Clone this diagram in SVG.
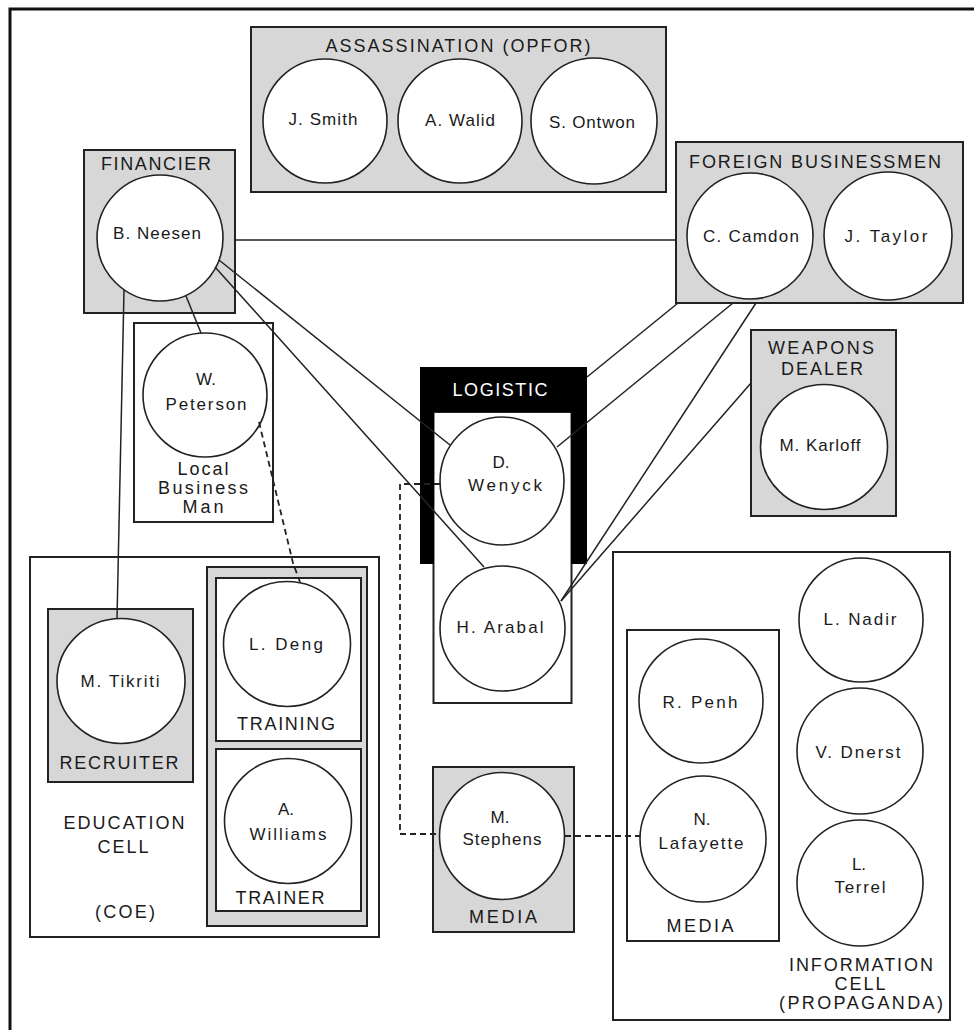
<svg xmlns="http://www.w3.org/2000/svg" width="974" height="1030" viewBox="0 0 974 1030">
<style>
text{font-family:"Liberation Sans",Arial,sans-serif;fill:#1a1a1a;text-anchor:middle}
.lb{font-size:18px}
.nm{font-size:17px}
.g{fill:#d7d7d7;stroke:#222;stroke-width:2}
.w{fill:#fff;stroke:#222;stroke-width:2}
.c{fill:#fff;stroke:#222;stroke-width:1.6}
.ln{fill:none;stroke:#222;stroke-width:1.5}
.ds{fill:none;stroke:#222;stroke-width:1.8;stroke-dasharray:6 4}
</style>
<rect x="0" y="0" width="974" height="1030" fill="#fff"/>
<rect x="10" y="9" width="1000" height="1050" fill="none" stroke="#111" stroke-width="3"/>

<g id="assassination">
<rect class="g" x="251" y="27" width="415" height="165"/>
<text class="lb" x="458" y="52" textLength="265" lengthAdjust="spacing">ASSASSINATION (OPFOR)</text>
</g>
<g id="j-smith"><circle class="c" cx="325" cy="121" r="62"/><text class="nm" x="323" y="125" textLength="69" lengthAdjust="spacing">J. Smith</text></g>
<g id="a-walid"><circle class="c" cx="460" cy="121" r="62"/><text class="nm" x="460" y="126" textLength="70" lengthAdjust="spacing">A. Walid</text></g>
<g id="s-ontwon"><circle class="c" cx="594" cy="121" r="63"/><text class="nm" x="592" y="128" textLength="86" lengthAdjust="spacing">S. Ontwon</text></g>

<g id="financier">
<rect class="g" x="84" y="150" width="151" height="163"/>
<text class="lb" x="156" y="170" textLength="110" lengthAdjust="spacing">FINANCIER</text>
</g>
<g id="b-neesen"><circle class="c" cx="160" cy="238" r="63"/><text class="nm" x="157" y="239" textLength="88" lengthAdjust="spacing">B. Neesen</text></g>

<g id="foreign-businessmen">
<rect class="g" x="676" y="142" width="287" height="161"/>
<text class="lb" x="815" y="168" textLength="252" lengthAdjust="spacing">FOREIGN BUSINESSMEN</text>
</g>
<g id="c-camdon"><circle class="c" cx="750" cy="236" r="63"/><text class="nm" x="751" y="242" textLength="96" lengthAdjust="spacing">C. Camdon</text></g>
<g id="j-taylor"><circle class="c" cx="888" cy="236" r="64"/><text class="nm" x="886" y="242" textLength="83" lengthAdjust="spacing">J. Taylor</text></g>

<g id="local-business-man">
<rect class="w" x="134" y="323" width="139" height="199"/>
<text class="lb" x="203" y="475" textLength="51" lengthAdjust="spacing">Local</text>
<text class="lb" x="203" y="494" textLength="90" lengthAdjust="spacing">Business</text>
<text class="lb" x="203" y="513" textLength="41" lengthAdjust="spacing">Man</text>
</g>
<g id="w-peterson"><circle class="c" cx="205" cy="395" r="62"/>
<text class="nm" x="206" y="385">W.</text>
<text class="nm" x="206" y="410" textLength="81" lengthAdjust="spacing">Peterson</text></g>

<g id="logistic">
<rect x="433.5" y="412" width="138" height="291" fill="#fff" stroke="#222" stroke-width="2"/>
<path d="M420 367 H587 V564 H571 V412 H434 V564 H420 Z" fill="#000"/>
<text class="lb" x="500" y="396" style="fill:#fff" textLength="95" lengthAdjust="spacing">LOGISTIC</text>
</g>
<g id="d-wenyck"><ellipse class="c" cx="502" cy="481" rx="62" ry="64"/>
<text class="nm" x="501" y="468">D.</text>
<text class="nm" x="505" y="491" textLength="74" lengthAdjust="spacing">Wenyck</text></g>
<g id="h-arabal"><circle class="c" cx="502.5" cy="628.5" r="62.5"/>
<text class="nm" x="500" y="633" textLength="87" lengthAdjust="spacing">H. Arabal</text></g>

<g id="weapons-dealer">
<rect class="g" x="751" y="330" width="145" height="186"/>
<text class="lb" x="821" y="354" textLength="106" lengthAdjust="spacing">WEAPONS</text>
<text class="lb" x="822" y="375" textLength="82" lengthAdjust="spacing">DEALER</text>
</g>
<g id="m-karloff"><ellipse class="c" cx="824" cy="447" rx="63.5" ry="62.5"/>
<text class="nm" x="820" y="451" textLength="81" lengthAdjust="spacing">M. Karloff</text></g>

<g id="education-cell">
<rect class="w" x="30" y="557" width="349" height="380"/>
<text class="lb" x="124" y="829" textLength="121" lengthAdjust="spacing">EDUCATION</text>
<text class="lb" x="123" y="853" textLength="51" lengthAdjust="spacing">CELL</text>
<text class="lb" x="125" y="918" textLength="60" lengthAdjust="spacing">(COE)</text>
</g>
<g id="recruiter">
<rect class="g" x="48" y="609" width="145" height="173"/>
<text class="lb" x="119" y="769" textLength="119" lengthAdjust="spacing">RECRUITER</text>
</g>
<g id="m-tikriti"><ellipse class="c" cx="121" cy="681" rx="64" ry="62.5"/>
<text class="nm" x="120" y="687" textLength="79" lengthAdjust="spacing">M. Tikriti</text></g>
<g id="training-group">
<rect class="g" x="207" y="567" width="160" height="359"/>
</g>
<g id="training">
<rect class="w" x="216" y="578" width="145" height="163"/>
<text class="lb" x="286" y="730" textLength="98" lengthAdjust="spacing">TRAINING</text>
</g>
<g id="l-deng"><ellipse class="c" cx="287" cy="644" rx="63.5" ry="62.5"/>
<text class="nm" x="286" y="650" textLength="74" lengthAdjust="spacing">L. Deng</text></g>
<g id="trainer">
<rect class="w" x="216" y="749" width="145" height="162"/>
<text class="lb" x="280" y="904" textLength="89" lengthAdjust="spacing">TRAINER</text>
</g>
<g id="a-williams"><ellipse class="c" cx="288" cy="821" rx="63.5" ry="62.5"/>
<text class="nm" x="286" y="815">A.</text>
<text class="nm" x="288" y="840" textLength="77" lengthAdjust="spacing">Williams</text></g>

<g id="media-stephens">
<rect class="g" x="433" y="767" width="141" height="165"/>
<text class="lb" x="503" y="923" textLength="68" lengthAdjust="spacing">MEDIA</text>
</g>
<g id="m-stephens"><ellipse class="c" cx="502" cy="836" rx="62.5" ry="63.5"/>
<text class="nm" x="500" y="823">M.</text>
<text class="nm" x="502" y="845" textLength="79" lengthAdjust="spacing">Stephens</text></g>

<g id="information-cell">
<rect class="w" x="613" y="552" width="337" height="468"/>
<text class="lb" x="861" y="971" textLength="144" lengthAdjust="spacing">INFORMATION</text>
<text class="lb" x="860" y="990" textLength="51" lengthAdjust="spacing">CELL</text>
<text class="lb" x="861" y="1009" textLength="164" lengthAdjust="spacing">(PROPAGANDA)</text>
</g>
<g id="media-info">
<rect class="w" x="627" y="630" width="152" height="311"/>
<text class="lb" x="700" y="932" textLength="67" lengthAdjust="spacing">MEDIA</text>
</g>
<g id="r-penh"><circle class="c" cx="701" cy="701" r="62"/>
<text class="nm" x="700" y="708" textLength="75" lengthAdjust="spacing">R. Penh</text></g>
<g id="n-lafayette"><circle class="c" cx="703" cy="839" r="63"/>
<text class="nm" x="702" y="825">N.</text>
<text class="nm" x="701" y="849" textLength="85" lengthAdjust="spacing">Lafayette</text></g>
<g id="l-nadir"><circle class="c" cx="861" cy="620" r="62"/>
<text class="nm" x="860" y="625" textLength="73" lengthAdjust="spacing">L. Nadir</text></g>
<g id="v-dnerst"><circle class="c" cx="860" cy="751" r="63"/>
<text class="nm" x="858" y="758" textLength="85" lengthAdjust="spacing">V. Dnerst</text></g>
<g id="l-terrel"><circle class="c" cx="860" cy="883" r="63"/>
<text class="nm" x="859" y="870">L.</text>
<text class="nm" x="860" y="893" textLength="51" lengthAdjust="spacing">Terrel</text></g>

<g id="connectors">
<line class="ln" x1="235" y1="240" x2="676" y2="240"/>
<line class="ln" x1="186" y1="296" x2="201" y2="333"/>
<line class="ln" x1="124" y1="290" x2="117" y2="619"/>
<line class="ln" x1="219" y1="260" x2="450" y2="445"/>
<line class="ln" x1="215" y1="267" x2="484" y2="567"/>
<line class="ln" x1="678" y1="303" x2="587" y2="377"/>
<line class="ln" x1="733" y1="303" x2="557" y2="447"/>
<line class="ln" x1="756" y1="303" x2="561" y2="601"/>
<line class="ln" x1="751" y1="383" x2="561" y2="601"/>
<polyline class="ds" points="259,422 293,563 300,582"/>
<polyline class="ds" points="440,484 400,484 400,834 440,834"/>
<line class="ds" x1="565" y1="836" x2="640" y2="836"/>
</g>
</svg>
